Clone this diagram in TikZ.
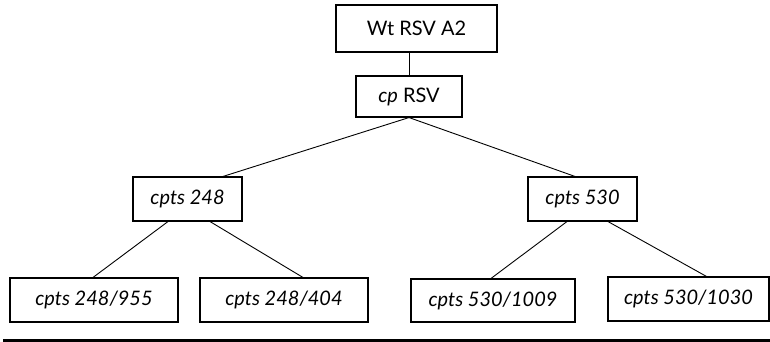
\documentclass[tikz,border=0pt]{standalone}
\usepackage{fontspec}
\setmainfont{Lato}
\begin{document}
\begin{tikzpicture}[x=1pt,y=-1pt,
  box/.style={draw,line width=1.1pt,rectangle,inner sep=0pt,minimum height=44pt,font=\fontsize{20}{24}\selectfont},
  link/.style={line width=0.9pt}]
\useasboundingbox (0,0) rectangle (770,342);
\node[box,minimum width=161pt,minimum height=47pt] (wt) at (416.5,28.5) {Wt RSV A2};
\node[box,minimum width=106pt,minimum height=41pt] (cp) at (409,96.5) {\textit{cp} RSV};
\node[box,minimum width=109pt] (c248) at (187.5,199) {\textit{cpts 248}};
\node[box,minimum width=109pt] (c530) at (582.5,199) {\textit{cpts 530}};
\node[box,minimum width=168pt] (c955) at (94,300) {\textit{cpts 248/955}};
\node[box,minimum width=168pt] (c404) at (284,300) {\textit{cpts 248/404}};
\node[box,minimum width=164pt,minimum height=43pt] (c1009) at (493,300.5) {\textit{cpts 530/1009}};
\node[box,minimum width=161pt] (c1030) at (688.5,299) {\textit{cpts 530/1030}};
\draw[link] (cp.north) -- (cp.north |- wt.south);
\draw[link] (cp.south) -- ([xshift=35.5pt]c248.north);
\draw[link] (cp.south) -- ([xshift=-7.5pt]c530.north);
\draw[link] ([xshift=-19.5pt]c248.south) -- ([xshift=-1pt]c955.north);
\draw[link] ([xshift=22.5pt]c248.south) -- ([xshift=19pt]c404.north);
\draw[link] ([xshift=-15.5pt]c530.south) -- ([xshift=-2pt]c1009.north);
\draw[link] ([xshift=25.5pt]c530.south) -- ([xshift=18pt]c1030.north);
\coordinate (ruleL) at (3,340.7);
\coordinate (ruleR) at (770,340.7);
\draw[line width=2.6pt] (ruleL) -- (ruleR);
\end{tikzpicture}
\end{document}
